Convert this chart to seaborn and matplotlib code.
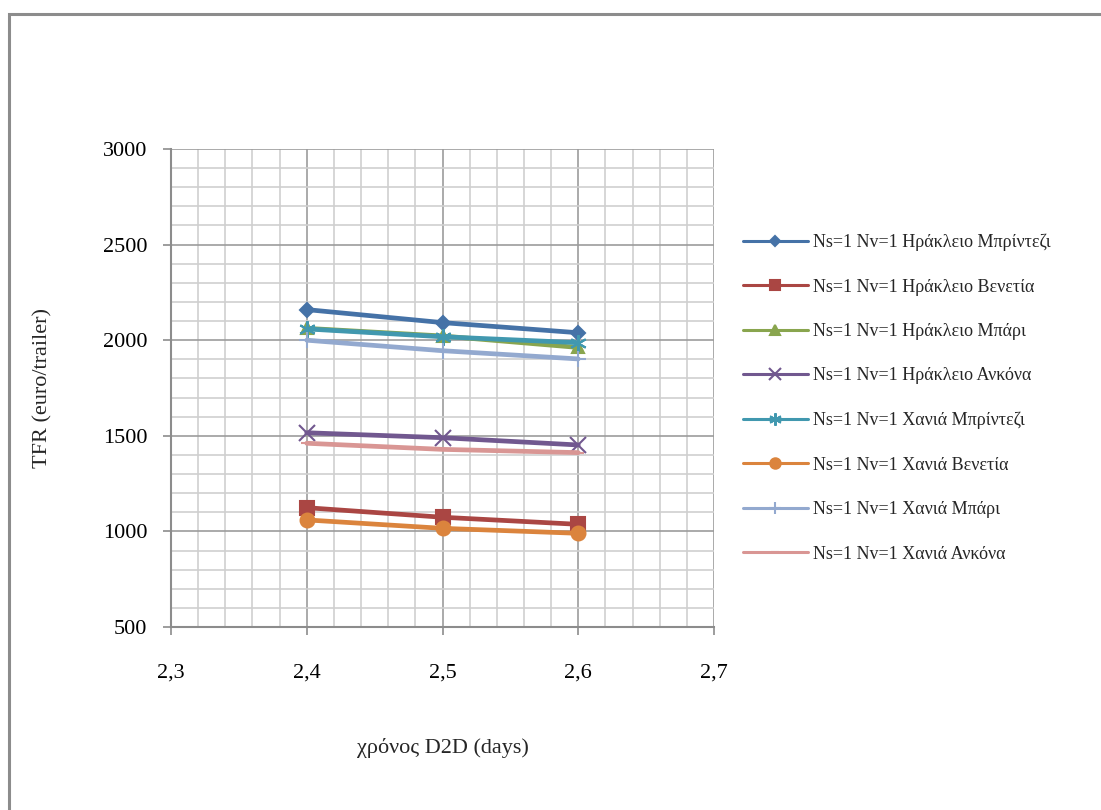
import matplotlib
matplotlib.use("Agg")
import matplotlib.pyplot as plt
from matplotlib.ticker import MultipleLocator, FuncFormatter
from matplotlib.patches import Rectangle
import seaborn as sns
import pandas as pd

sns.set_theme(style="white")
plt.rcParams["font.family"] = ["Liberation Serif", "DejaVu Serif"]

# D2D transit time (days)
days = [2.4, 2.5, 2.6]

# TFR (euro/trailer) per route
labels = [
    "Ns=1 Nv=1 Ηράκλειο Μπρίντεζι",
    "Ns=1 Nv=1 Ηράκλειο Βενετία",
    "Ns=1 Nv=1 Ηράκλειο Μπάρι",
    "Ns=1 Nv=1 Ηράκλειο Ανκόνα",
    "Ns=1 Nv=1 Χανιά Μπρίντεζι",
    "Ns=1 Nv=1 Χανιά Βενετία",
    "Ns=1 Nv=1 Χανιά Μπάρι",
    "Ns=1 Nv=1 Χανιά Ανκόνα",
]
her_brindisi = [2160, 2092, 2039]
her_venice = [1124, 1074, 1037]
her_bari = [2062, 2022, 1962]
her_ancona = [1516, 1490, 1452]
cha_brindisi = [2059, 2018, 1987]
cha_venice = [1060, 1016, 990]
cha_bari = [2000, 1945, 1902]
cha_ancona = [1461, 1429, 1412]
series = [her_brindisi, her_venice, her_bari, her_ancona,
          cha_brindisi, cha_venice, cha_bari, cha_ancona]

colors = ["#4572A7", "#AA4643", "#89A54E", "#71588F",
          "#4198AF", "#DB843D", "#93A9CF", "#D99694"]
markers = ["D", "s", "^", "x", (6, 2, 0), "o", "+", "_"]
msizes = [7, 10, 9, 12, 12, 10, 12, 8]

fig = plt.figure(figsize=(11.01, 8.10), dpi=100)
fig.patch.set_facecolor("white")
ax = fig.add_axes([171 / 1101, 1 - 627 / 810, (714 - 171) / 1101, (627 - 149) / 810])

# outer chart frame
fig.add_artist(Rectangle((9 / 1101, -0.1), 1.2, 1 - 14 / 810 + 0.1,
                         transform=fig.transFigure, fill=False,
                         edgecolor="#8c8c8c", linewidth=2.2))

# minor grid first, major grid over it
ax.set_xlim(2.3, 2.7)
ax.set_ylim(500, 3000)
ax.xaxis.set_major_locator(MultipleLocator(0.1))
ax.xaxis.set_minor_locator(MultipleLocator(0.02))
ax.yaxis.set_major_locator(MultipleLocator(500))
ax.yaxis.set_minor_locator(MultipleLocator(100))
ax.grid(which="minor", color="#cfcfcf", linewidth=1.2)
ax.grid(which="major", color="#9c9c9c", linewidth=1.2)
ax.set_axisbelow(True)

for vals, lab, c, m, ms in zip(series, labels, colors, markers, msizes):
    df = pd.DataFrame({"days": days, "tfr": vals})
    sns.lineplot(data=df, x="days", y="tfr", ax=ax, color=c, linewidth=3.4,
                 marker=m, markersize=ms, markeredgecolor=c,
                 markeredgewidth=1.5, label=lab)

ax.xaxis.set_major_formatter(FuncFormatter(lambda v, p: f"{v:.1f}".replace(".", ",")))
ax.yaxis.set_major_formatter(FuncFormatter(lambda v, p: f"{int(v)}"))
ax.tick_params(axis="both", which="major", labelsize=16, colors="#8c8c8c",
               labelcolor="black", length=6, width=1.2, direction="out")
ax.tick_params(axis="x", which="major", pad=20, bottom=True)
ax.tick_params(axis="y", which="major", pad=11, left=True)
ax.tick_params(which="minor", length=0)

for s in ["left", "bottom"]:
    ax.spines[s].set_color("#8c8c8c")
    ax.spines[s].set_linewidth(1.5)
for s in ["top", "right"]:
    ax.spines[s].set_visible(False)

ax.set_xlabel("χρόνος D2D (days)", fontsize=16, labelpad=40)
ax.set_ylabel("TFR (euro/trailer)", fontsize=16, labelpad=36)

leg = ax.legend(loc="upper left", bbox_to_anchor=(1.04, 0.838), frameon=False,
                fontsize=13, handlelength=3.6, handletextpad=0.3,
                labelspacing=1.52, borderaxespad=0)
for h in leg.legend_handles:
    h.set_linewidth(2.2)
    h.set_markersize(h.get_markersize() * 0.75)

fig.savefig("out.png", dpi=100, facecolor="white")
